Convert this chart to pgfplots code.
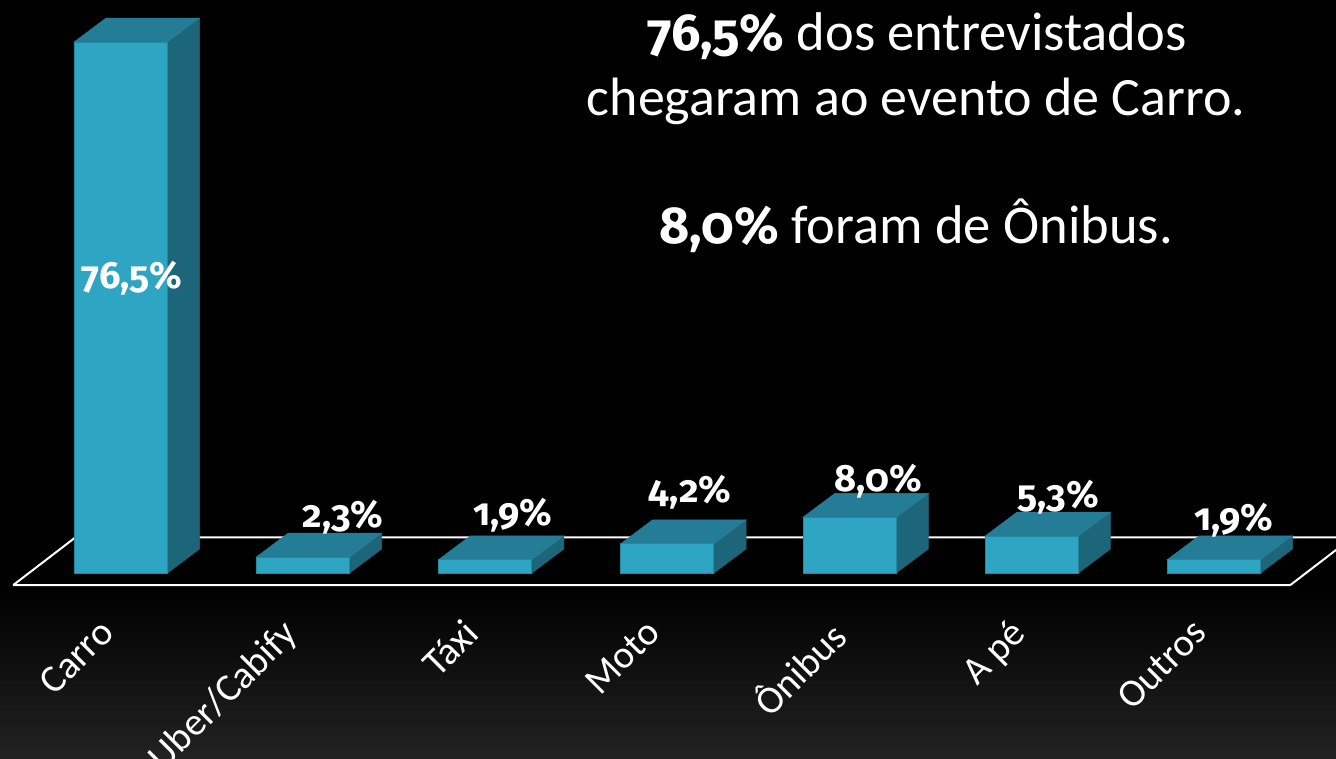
\documentclass[border=0pt]{standalone}
\usepackage{pgfplots}
\usepackage{pgfplotstable}
\usepackage{fontspec}
\pgfplotsset{compat=1.18}
\setmainfont{Carlito}
\newfontfamily\numf[Numbers=OldStyle]{Fira Sans}
\definecolor{front}{HTML}{2EA5C2}
\definecolor{frontedge}{HTML}{24899F}
\definecolor{sidec}{HTML}{1D667A}
\definecolor{topc}{HTML}{257C96}
\definecolor{bottomgrey}{HTML}{222222}
\pgfplotstableread{
x v
0 76.5
1 2.3
2 1.9
3 4.2
4 8.0
5 5.3
6 1.9
}\bardata
% depth faces of a bar: category position, value
\newcommand\barfaces[2]{%
  \pgfmathsetmacro\xa{#1+0.2566}%
  \pgfmathsetmacro\xb{#1+0.2566+0.1757}%
  \pgfmathsetmacro\xc{#1-0.2566}%
  \pgfmathsetmacro\xd{#1-0.2566+0.1757}%
  \pgfmathsetmacro\yt{#2+3.46}%
  \addplot[draw=sidec,fill=sidec,line width=0.5pt,forget plot] coordinates {(\xa,0) (\xb,3.46) (\xb,\yt) (\xa,#2)} -- cycle;
  \addplot[draw=topc,fill=topc,line width=0.5pt,forget plot] coordinates {(\xc,#2) (\xd,\yt) (\xb,\yt) (\xa,#2)} -- cycle;
}
\begin{document}
\begin{tikzpicture}[x=1pt,y=1pt]
\useasboundingbox (0,0) rectangle (1336,758);
\clip (0,0) rectangle (1336,758);
\fill[black] (0,0) rectangle (1336,758);
\shade[bottom color=bottomgrey,top color=black] (0,0) rectangle (1336,170);
\begin{axis}[
  at={(0.3pt,173pt)},anchor=south west,
  scale only axis,width=1336pt,height=585pt,
  xmin=-0.6615,xmax=6.672,ymin=-1.73,ymax=82.56,
  clip=false,
  axis line style={draw=none},
  major tick length=0pt,
  ytick=\empty,
  xtick={0,1,2,3,4,5,6},
  xticklabels={Carro,Uber/Cabify,Táxi,Moto,Ônibus,A pé,Outros},
  xticklabel style={rotate=45,anchor=north east,text=white,font=\fontsize{39}{46}\selectfont,xshift=-35.4pt,yshift=-2.8pt},
]
% floor
\addplot[draw=white,line width=2pt,forget plot,line join=bevel] coordinates {(-0.590,-1.73) (6.420,-1.73) (6.76,5.115) (-0.25,5.115)} -- cycle;
\barfaces{0}{76.5}
\barfaces{1}{2.3}
\barfaces{2}{1.9}
\barfaces{3}{4.2}
\barfaces{4}{8.0}
\barfaces{5}{5.3}
\barfaces{6}{1.9}
\addplot[ybar,bar width=93pt,fill=front,draw=frontedge,line width=0.7pt] table[x=x,y=v] {\bardata};
\end{axis}
\begin{scope}[every node/.style={text=white,inner sep=0pt,anchor=base}]
\newcommand\lab[3]{\node[font=\fontsize{38}{40}\selectfont\numf\bfseries] at (#1,758-#2) {#3};}
\lab{132}{289}{76,5\%}
\lab{343}{528}{2,3\%}
\lab{513}{526}{1,9\%}
\lab{690}{503}{4,2\%}
\lab{878}{492}{8,0\%}
\lab{1058}{508}{5,3\%}
\lab{1234}{531}{1,9\%}
\node[font=\fontsize{54.5}{60}\selectfont] at (917,758-51) {{\numf\fontsize{52}{60}\selectfont\bfseries 76,5\%} dos entrevistados};
\node[font=\fontsize{54}{60}\selectfont] at (916,758-116) {chegaram ao evento de Carro.};
\node[font=\fontsize{54.5}{60}\selectfont] at (916,758-244) {{\numf\fontsize{52}{60}\selectfont\bfseries 8,0\%} foram de Ônibus.};
\end{scope}
\end{tikzpicture}
\end{document}
